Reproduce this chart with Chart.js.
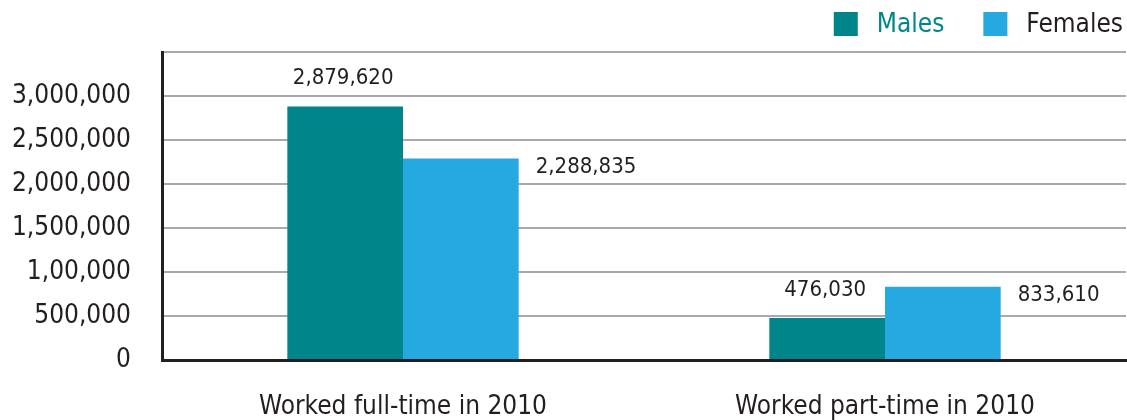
<!DOCTYPE html>
<html><head><meta charset="utf-8">
<script src="https://cdn.jsdelivr.net/npm/chart.js@4/dist/chart.umd.min.js"></script>
<style>html,body{margin:0;padding:0;background:#fff;}#wrap{width:1127px;height:420px;position:relative;}</style>
</head><body><div id="wrap"><canvas id="c"></canvas></div>
<script>
const categories = ['Worked full-time in 2010', 'Worked part-time in 2010'];
const seriesNames = ['Males', 'Females'];
const males = [2879620, 476030];
const females = [2288835, 833610];
const maleLabels = ['2,879,620', '476,030'];
const femaleLabels = ['2,288,835', '833,610'];
const tickValues = [0, 500000, 1000000, 1500000, 2000000, 2500000, 3000000, 3500000];
const tickLabels = ['0', '500,000', '1,00,000', '1,500,000', '2,000,000', '2,500,000', '3,000,000', ''];

const FONT = "'Liberation Sans Narrow', 'DejaVu Sans Condensed', 'Roboto', sans-serif";
const DARK = '#231f20';
const TEAL = '#00868a';
const BLUE = '#25a9e0';

const valueLabels = {
  id: 'valueLabels',
  afterDatasetsDraw(chart) {
    const ctx = chart.ctx;
    ctx.save();
    ctx.font = '22px ' + FONT;
    ctx.fillStyle = DARK;
    ctx.textBaseline = 'middle';
    chart.getDatasetMeta(0).data.forEach((bar, i) => {
      ctx.textAlign = 'center';
      ctx.fillText(maleLabels[i], bar.x - 2, bar.y - 28);
    });
    chart.getDatasetMeta(1).data.forEach((bar, i) => {
      ctx.textAlign = 'left';
      ctx.fillText(femaleLabels[i], bar.x + bar.width / 2 + 17, bar.y + 9);
    });
    ctx.restore();
  }
};

const customLegend = {
  id: 'customLegend',
  afterDraw(chart) {
    const ctx = chart.ctx;
    ctx.save();
    ctx.font = '26px ' + FONT;
    ctx.textBaseline = 'middle';
    ctx.textAlign = 'left';
    const right = chart.chartArea.right;
    const items = chart.data.datasets.map((ds, i) => ({ text: ds.label, color: ds.backgroundColor, textColor: i === 0 ? TEAL : DARK }));
    let x = right - 3;
    const pos = [];
    for (let i = items.length - 1; i >= 0; i--) {
      const w = ctx.measureText(items[i].text).width;
      const tx = x - w;
      const bx = tx - 19 - 24;
      pos[i] = { bx, tx };
      x = bx - 39;
    }
    items.forEach((it, i) => {
      ctx.fillStyle = it.color;
      ctx.fillRect(pos[i].bx, 12, 24, 24);
      ctx.fillStyle = it.textColor;
      ctx.fillText(it.text, pos[i].tx, 25);
    });
    ctx.restore();
  }
};

new Chart(document.getElementById('c'), {
  type: 'bar',
  data: {
    labels: categories,
    datasets: [
      { label: seriesNames[0], data: males, backgroundColor: TEAL },
      { label: seriesNames[1], data: females, backgroundColor: BLUE }
    ]
  },
  options: {
    responsive: true,
    maintainAspectRatio: false,
    animation: false,
    layout: { padding: { left: 0, right: 1, top: 52, bottom: 0 } },
    datasets: { bar: { categoryPercentage: 0.48, barPercentage: 1.0 } },
    plugins: {
      tooltip: { enabled: false },
      legend: { display: false }
    },
    scales: {
      x: {
        grid: { display: false, drawTicks: false },
        border: { display: true, color: DARK, width: 3 },
        ticks: { color: DARK, font: { family: FONT, size: 26 }, padding: 32 },
        afterFit(scale) { scale.height = 60; }
      },
      y: {
        min: 0, max: 3500000,
        afterBuildTicks(scale) { scale.ticks = tickValues.map(v => ({ value: v })); },
        grid: { color: '#aaaaaa', lineWidth: 2, drawTicks: false },
        border: { display: true, color: DARK, width: 3 },
        ticks: {
          color: DARK, font: { family: FONT, size: 26 }, padding: 31,
          callback(v) { const i = tickValues.indexOf(v); return i >= 0 ? tickLabels[i] : ''; }
        },
        afterFit(scale) { scale.width = 162; }
      }
    }
  },
  plugins: [valueLabels, customLegend]
});
</script></body></html>
